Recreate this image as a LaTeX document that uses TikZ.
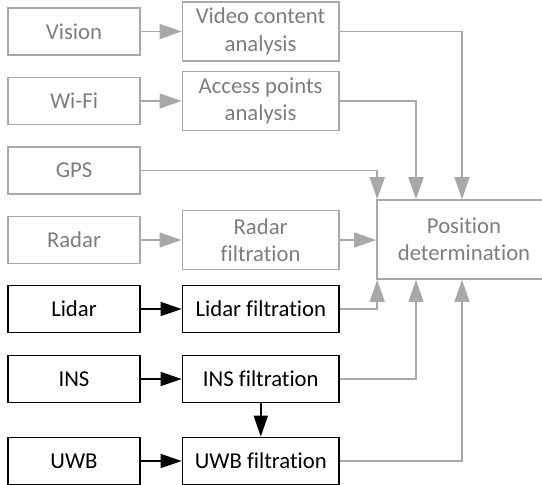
\documentclass[tikz,border=0pt]{standalone}
\usepackage{fontspec}
\setmainfont{Carlito}[Ligatures=NoCommon]
\usetikzlibrary{
  arrows.meta,
  positioning
}
\definecolor{FlowGray}{RGB}{168,168,168}
\definecolor{FlowText}{RGB}{125,125,125}

\begin{document}
\begin{tikzpicture}[
  x=1pt, y=-1pt,
  sens/.style  ={rectangle, minimum width=131.5pt, minimum height=47pt,
                 inner sep=0pt, align=center,
                 font=\fontsize{22.7}{27.5}\selectfont},
  proc/.style  ={rectangle, minimum width=156.5pt, minimum height=47pt,
                 inner sep=0pt, align=center,
                 font=\fontsize{22.7}{27.5}\selectfont},
  tall/.style  ={minimum height=59pt},
  grayed/.style={draw=FlowGray, line width=1.6pt, text=FlowText},
  active/.style={draw=black, line width=1.8pt, text=black},
  garr/.style  ={-{Triangle[length=22pt,width=15pt]}, line width=1.5pt, FlowGray},
  barr/.style  ={-{Triangle[length=21pt,width=14pt]}, line width=1.8pt, black}
]
\path[use as bounding box, clip] (0,0) rectangle (542,485);

% sources not in use
\node[sens,grayed]                        (vision) at (74,31.5) {Vision};
\node[proc,tall,grayed,right=41pt of vision] (video) {Video content\\analysis};
\node[sens,grayed]                        (wifi)   at (74,101)  {Wi-Fi};
\node[proc,tall,grayed,right=41pt of wifi]  (access) {Access points\\analysis};
\node[sens,grayed]                        (gps)    at (74,170.5) {GPS};
\node[sens,grayed]                        (radar)  at (74,240)  {Radar};
\node[proc,tall,grayed,right=41pt of radar] (radarf) {Radar\\filtration};

% sources in use
\node[sens,active]                        (lidar)  at (74,309)  {Lidar};
\node[proc,active,right=41pt of lidar]    (lidarf) {Lidar filtration};
\node[sens,active]                        (ins)    at (74,379)  {INS};
\node[proc,active,right=41pt of ins]      (insf)   {INS filtration};
\node[sens,active]                        (uwb)    at (74,461)  {UWB};
\node[proc,active,right=41pt of uwb]      (uwbf)   {UWB filtration};

\node[proc,grayed, minimum width=174pt, minimum height=79pt]
     (pos) at (464,239.5) {Position\\determination};

\draw[garr] (vision) -- (video);
\draw[garr] (wifi) -- (access);
\draw[garr] (radar) -- (radarf);
\draw[garr] (radarf.east) -- (radarf.east -| pos.west);

% inputs from above and below
\draw[garr] (video.east)  -| ([xshift=-2pt]pos.north);
\draw[garr] (access.east) -| ([xshift=-48pt]pos.north);
\draw[garr] (gps.east)    -| ([xshift=1pt]pos.north west);
\draw[garr] (lidarf.east) -| ([xshift=1pt]pos.south west);
\draw[garr] (insf.east)   -| ([xshift=-48pt]pos.south);
\draw[garr] (uwbf.east)   -| ([xshift=-2pt]pos.south);

\draw[barr] (lidar) -- (lidarf);
\draw[barr] (ins) -- (insf);
\draw[barr] (uwb) -- (uwbf);
\draw[barr] (insf) -- (uwbf);
\end{tikzpicture}
\end{document}
